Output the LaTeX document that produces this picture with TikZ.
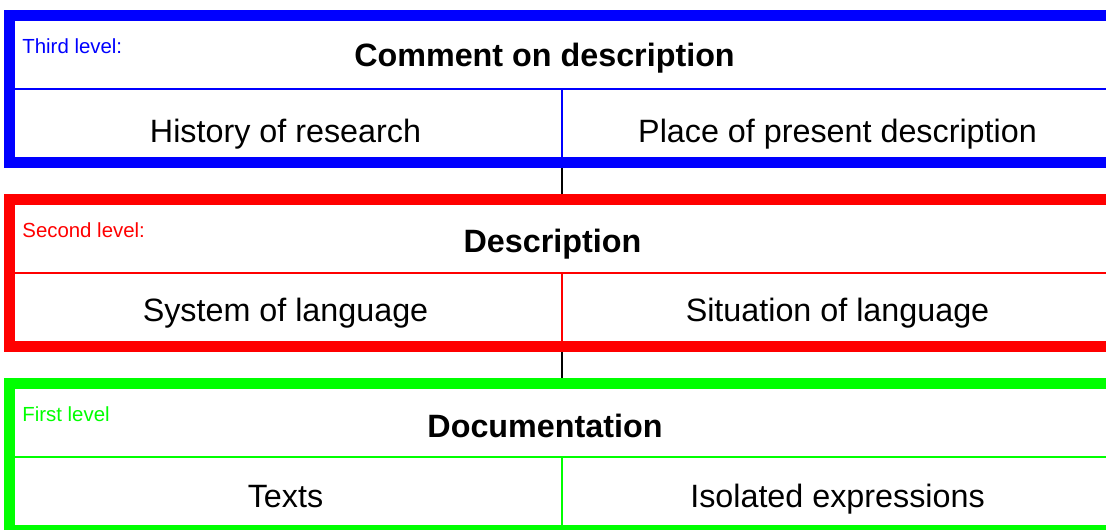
\documentclass[tikz,border=0pt]{standalone}
\usepackage{fontspec}
\setmainfont{Liberation Sans}
\usetikzlibrary{positioning}

\begin{document}
\begin{tikzpicture}[
      x=0.5pt, y=-0.5pt,
      level_box/.style={
         rectangle,
         draw=#1,
         line width=5.5pt,
         minimum width=552.5pt,
         minimum height=73.5pt,
         inner sep=0pt},
      level_line/.style={
         draw=#1,
         line width=1pt},
      level_label/.style={
         text=#1,
         anchor=base west,
         inner sep=0pt,
         font=\fontsize{10.2}{12}\selectfont},
      title_text/.style={
         anchor=base,
         inner sep=0pt,
         font=\fontsize{16.15}{19}\selectfont\bfseries},
      cell_text/.style={
         anchor=base,
         inner sep=0pt,
         font=\fontsize{16.15}{19}\selectfont},
      link_black/.style={
         draw=black,
         line width=1pt}
]
      \clip (0,0) rectangle (1106,529);

    \foreach \n/\y/\c/\lab/\ttl/\tx/\ty/\cy/\l/\r in {% name/centre/colour/label/title/title x/title base/cell base/left/right
      third/89/blue/Third level:/Comment on description/544.5/66.7/142.7/History of research/Place of present description,
      second/273/red/Second level:/Description/552.5/252.7/321.7/System of language/Situation of language,
      first/457/green/First level/Documentation/545/437.3/507/Texts/Isolated expressions}
    {
      \node[level_box=\c] (\n) at (562,\y) {};
      \draw[level_line=\c] (\n.west) -- (\n.east);
      \draw[level_line=\c] (\n.center) -- (\n.south);
      \node[level_label=\c] (\n_lab) at (22,\y-35.5) {\lab};
      \node[title_text] (\n_title) at (\tx,\ty) {\ttl};
      \node[cell_text] (\n_left) at (285.5,\cy) {\l};
      \node[cell_text] (\n_right) at (837.5,\cy) {\r};
    }

      %links between levels
      \draw[link_black] (third.south) -- (second.north);
      \draw[link_black] (second.south) -- (first.north);
\end{tikzpicture}
\end{document}
